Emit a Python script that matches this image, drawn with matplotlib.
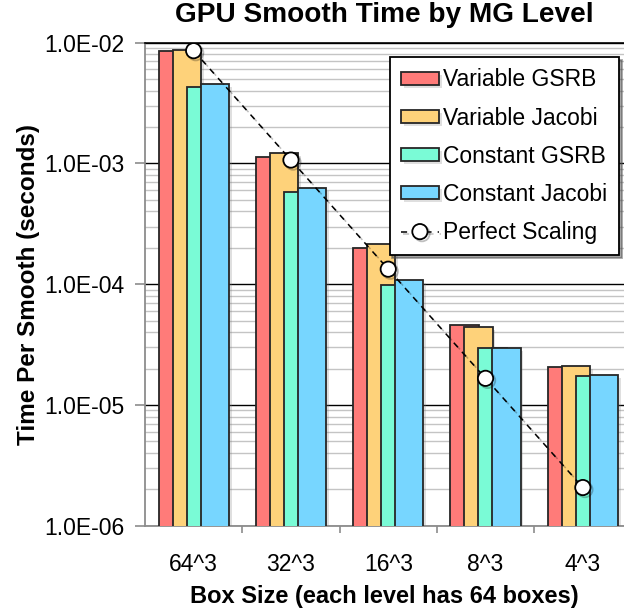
import numpy as np
import matplotlib
matplotlib.use("Agg")
import matplotlib.pyplot as plt
import matplotlib.patheffects as pe
from matplotlib.ticker import FixedLocator, FuncFormatter, LogLocator, NullFormatter

plt.rcParams['font.family'] = ['Liberation Sans', 'DejaVu Sans']

# data
box_sizes = ["64^3", "32^3", "16^3", "8^3", "4^3"]
variable_gsrb = [8.52e-3, 1.135e-3, 1.99e-4, 4.55e-5, 2.06e-5]
variable_jacobi = [8.68e-3, 1.21e-3, 2.14e-4, 4.40e-5, 2.10e-5]
constant_gsrb = [4.29e-3, 5.82e-4, 9.8e-5, 2.97e-5, 1.74e-5]
constant_jacobi = [4.54e-3, 6.28e-4, 1.08e-4, 2.97e-5, 1.77e-5]
perfect_scaling = [8.57e-3, 1.065e-3, 1.33e-4, 1.66e-5, 2.07e-6]

series = [
    ("Variable GSRB", variable_gsrb, "#FF7B79"),
    ("Variable Jacobi", variable_jacobi, "#FED27A"),
    ("Constant GSRB", constant_gsrb, "#7AFBD6"),
    ("Constant Jacobi", constant_jacobi, "#77D6FF"),
]

fig = plt.figure(figsize=(6.24, 6.11), dpi=100)
ax = fig.add_axes([145 / 624, 1 - 525.7 / 611, 1 - 145 / 624, (525.7 - 42.6) / 611])

x = np.arange(len(box_sizes))
width = 0.29
step = 0.144
shadow = [pe.SimplePatchShadow(offset=(2, -2), alpha=0.25, shadow_rgbFace='gray'), pe.Normal()]

handles = []
for i, (name, vals, col) in enumerate(series):
    bars = ax.bar(x + (i - 1.5) * step, vals, width, color=col, edgecolor="#262626",
                  linewidth=1.3, label=name, zorder=3 + i)
    for b in bars:
        b.set_path_effects(shadow)
    handles.append(bars)

line, = ax.plot(x, perfect_scaling, linestyle=(0, (4, 4)), color="black", linewidth=1.1,
                marker="o", markersize=11, markerfacecolor="white", markeredgecolor="black",
                markeredgewidth=1.3, label="Perfect Scaling", zorder=10,
                path_effects=[pe.SimpleLineShadow(offset=(1.5, -1.5), alpha=0.25), pe.Normal()])
handles.append(line)

ax.set_yscale("log")
ax.set_ylim(1e-6, 1e-2)
ax.set_xlim(-0.5, (624 - 145) / 97.3 - 0.5)

ax.yaxis.set_major_formatter(FuncFormatter(lambda v, p: f"{v:.1E}"))
ax.yaxis.set_minor_locator(LogLocator(base=10, subs=np.arange(2, 10)))
ax.yaxis.set_minor_formatter(NullFormatter())
ax.yaxis.grid(True, which="major", color="black", linewidth=1.0)
ax.yaxis.grid(True, which="minor", color="#C4C4C4", linewidth=1.0)
ax.set_axisbelow(True)
ax.tick_params(axis="y", which="major", length=7, color="#8C8C8C", width=1.2,
               labelsize=16.5, pad=8)
ax.tick_params(axis="y", which="minor", length=0)

ax.set_xticks(x)
ax.set_xticklabels(box_sizes)
ax.xaxis.set_minor_locator(FixedLocator(np.arange(0.5, 5, 1.0)))
ax.tick_params(axis="x", which="major", length=0, labelsize=16.5, pad=20)
ax.tick_params(axis="x", which="minor", length=5, color="#8C8C8C", width=1.2)

for s in ["left", "bottom"]:
    ax.spines[s].set_color("#8C8C8C")
    ax.spines[s].set_linewidth(1.3)
ax.spines["right"].set_visible(False)
ax.spines["top"].set_color("black")
ax.spines["top"].set_linewidth(1.2)

ax.set_title("GPU Smooth Time by MG Level", fontsize=20.2, fontweight="bold", pad=15)
ax.set_xlabel("Box Size (each level has 64 boxes)", fontsize=17, fontweight="bold",
              labelpad=6)
ax.set_ylabel("Time Per Smooth (seconds)", fontsize=17.5, fontweight="bold", labelpad=3)

leg = ax.legend(handles=handles, loc="upper right", bbox_to_anchor=(619 / 624, 1 - 57 / 611),
                bbox_transform=fig.transFigure, fontsize=16.5, frameon=True,
                fancybox=False, shadow=True, edgecolor="black", framealpha=1,
                handlelength=1.65, handleheight=0.5, handletextpad=0.2,
                labelspacing=0.66, borderpad=0.5, borderaxespad=0)
leg.get_frame().set_linewidth(1.3)
leg.set_zorder(20)

fig.savefig("out.png", dpi=100)
